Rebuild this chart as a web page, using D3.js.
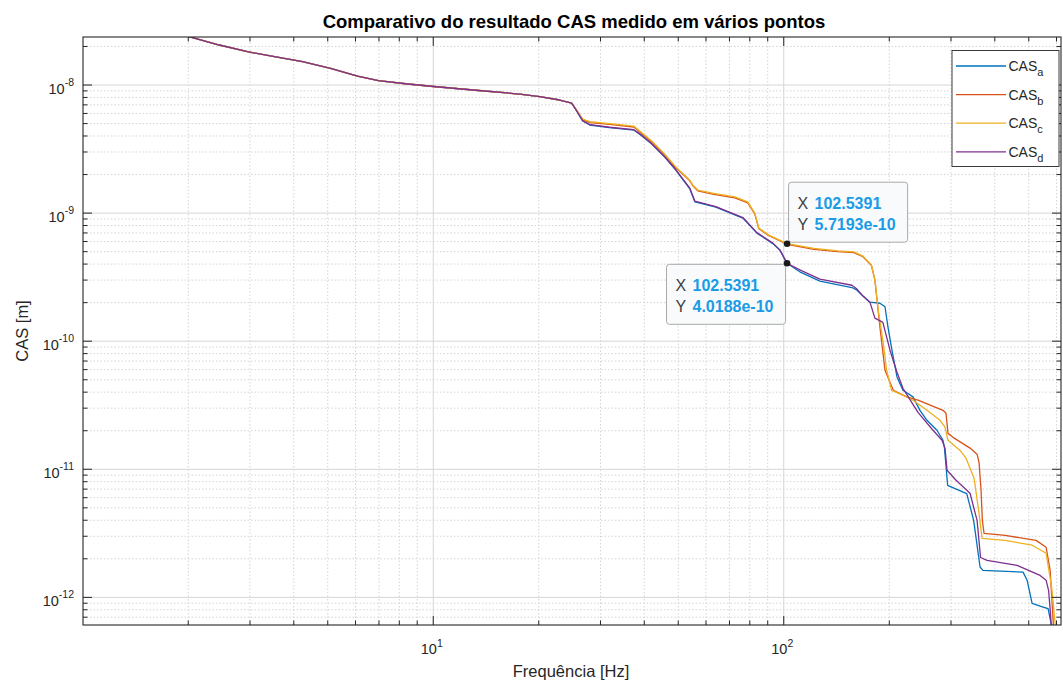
<!DOCTYPE html>
<html>
<head>
<meta charset="utf-8">
<script src="https://cdn.jsdelivr.net/npm/d3@7"></script>
<style>
  body { margin: 0; background: #ffffff; }
  svg { display: block; font-family: "Liberation Sans", Arial, Helvetica, sans-serif; }
</style>
</head>
<body>
<svg id="grafico" width="1063" height="687"></svg>
<script>
// ---- Dados: frequência [Hz] e CAS [m] ----
const faixaFreq = [1.005, 620];
const faixaCas = [6.03e-13, 2.35e-8];

const ticksFreq = [10, 100];
const rotulosFreq = ["1", "2"];
const ticksCas = [1e-12, 1e-11, 1e-10, 1e-9, 1e-8];
const rotulosCas = ["-12", "-11", "-10", "-9", "-8"];

// trecho de baixa frequência, comum aos quatro pontos
const trechoComum = [
  [2.0, 2.38e-8], [2.46, 2.035e-8], [2.96, 1.804e-8], [3.535, 1.649e-8], [4.25, 1.507e-8],
  [5.11, 1.338e-8], [6.10, 1.165e-8], [7.00, 1.071e-8], [8.36, 1.014e-8], [10.05, 9.65e-9],
  [13.78, 8.94e-9], [17.7, 8.43e-9], [20.18, 8.06e-9], [23.02, 7.57e-9], [24.91, 7.17e-9]
];

const casA = [
  [25.74, 6.21e-9], [26.78, 5.19e-9], [28.04, 4.83e-9], [31.97, 4.61e-9], [37.44, 4.41e-9],
  [38.95, 4.10e-9], [42.15, 3.43e-9], [45.91, 2.71e-9], [49.36, 2.15e-9], [54.13, 1.53e-9],
  [55.94, 1.215e-9], [64.2, 1.104e-9], [76.7, 9.06e-10], [84.1, 6.92e-10], [93.4, 5.73e-10],
  [97.8, 5.09e-10], [102.5391, 4.0188e-10], [111.5, 3.45e-10], [127.2, 2.92e-10], [157.0, 2.60e-10],
  [162.3, 2.48e-10], [168.8, 2.23e-10], [176.7, 2.00e-10], [188.7, 1.96e-10], [195.1, 1.84e-10],
  [198.9, 1.28e-10], [204.2, 8.43e-11], [211.1, 5.21e-11], [219.5, 4.10e-11], [234.5, 3.64e-11],
  [245.5, 2.86e-11], [257.0, 2.39e-11], [274.5, 2.00e-11], [285.6, 1.67e-11], [288.4, 1.45e-11],
  [294.4, 7.43e-12], [333.8, 6.40e-12], [349.3, 3.96e-12], [364.3, 1.71e-12], [371.5, 1.61e-12],
  [483.3, 1.56e-12], [496.2, 1.35e-12], [512.8, 8.90e-13], [551.1, 8.33e-13], [569.6, 8.09e-13],
  [583.6, 5.81e-13], [590.0, 4.57e-13]
];

const casB = [
  [25.74, 6.28e-9], [26.78, 5.30e-9], [28.04, 5.05e-9], [31.97, 4.88e-9], [37.44, 4.66e-9],
  [38.95, 4.26e-9], [42.15, 3.56e-9], [45.91, 2.82e-9], [49.36, 2.24e-9], [54.13, 1.77e-9],
  [55.21, 1.62e-9], [57.03, 1.48e-9], [63.36, 1.39e-9], [72.75, 1.305e-9], [79.21, 1.19e-9],
  [82.94, 9.75e-10], [85.15, 7.5e-10], [90.96, 6.6e-10], [102.5391, 5.66e-10], [122.3, 5.17e-10],
  [143.2, 4.96e-10], [159.1, 4.87e-10], [168.8, 4.52e-10], [178.5, 3.86e-10], [182.6, 2.97e-10],
  [188.7, 1.28e-10], [195.1, 5.88e-11], [206.0, 4.10e-11], [224.9, 3.64e-11], [242.3, 3.43e-11],
  [285.6, 2.86e-11], [291.3, 2.71e-11], [295.1, 1.89e-11], [305.0, 1.76e-11], [341.1, 1.45e-11],
  [357.2, 1.30e-11], [361.9, 1.12e-11], [366.7, 6.79e-12], [369.8, 3.96e-12], [374.0, 3.13e-12],
  [429.4, 3.02e-12], [526.4, 2.76e-12], [562.2, 2.44e-12], [577.3, 1.61e-12], [588.8, 6.55e-13],
  [592.7, 4.57e-13]
];

const casC = [
  [25.74, 6.32e-9], [26.78, 5.38e-9], [28.04, 5.14e-9], [31.97, 4.96e-9], [37.44, 4.74e-9],
  [38.95, 4.33e-9], [42.15, 3.62e-9], [45.91, 2.86e-9], [49.36, 2.27e-9], [54.13, 1.79e-9],
  [55.21, 1.64e-9], [57.03, 1.50e-9], [63.36, 1.413e-9], [72.75, 1.328e-9], [79.21, 1.214e-9],
  [82.94, 9.91e-10], [85.15, 7.57e-10], [90.96, 6.67e-10], [102.5391, 5.7193e-10], [122.3, 5.25e-10],
  [143.2, 5.03e-10], [159.1, 4.94e-10], [168.8, 4.57e-10], [178.5, 3.89e-10], [182.6, 2.97e-10],
  [186.6, 1.73e-10], [192.9, 9.56e-11], [197.2, 5.88e-11], [203.8, 4.10e-11], [219.5, 3.75e-11],
  [234.5, 3.43e-11], [257.0, 2.86e-11], [280.0, 2.39e-11], [289.3, 2.11e-11], [295.1, 1.67e-11],
  [319.5, 1.39e-11], [332.3, 1.21e-11], [341.1, 1.01e-11], [350.3, 8.43e-12], [361.9, 4.49e-12],
  [369.1, 2.86e-12], [429.4, 2.76e-12], [512.8, 2.53e-12], [562.2, 2.19e-12], [583.0, 1.19e-12],
  [596.6, 6.21e-13], [600.4, 4.57e-13]
];

const casD = [
  [25.74, 6.23e-9], [26.78, 5.21e-9], [28.04, 4.86e-9], [31.97, 4.64e-9], [37.44, 4.44e-9],
  [38.95, 4.12e-9], [42.15, 3.45e-9], [45.91, 2.73e-9], [49.36, 2.17e-9], [54.13, 1.55e-9],
  [55.94, 1.23e-9], [64.2, 1.115e-9], [76.7, 9.15e-10], [84.1, 6.98e-10], [93.4, 5.78e-10],
  [97.8, 5.12e-10], [102.5391, 4.0188e-10], [111.5, 3.57e-10], [127.2, 3.02e-10], [157.0, 2.71e-10],
  [162.3, 2.53e-10], [168.8, 2.23e-10], [176.7, 2.00e-10], [182.6, 1.50e-10], [192.4, 1.39e-10],
  [201.6, 8.43e-11], [211.1, 5.67e-11], [219.5, 4.25e-11], [242.3, 2.76e-11], [267.4, 2.00e-11],
  [283.8, 1.67e-11], [289.3, 1.45e-11], [293.3, 9.73e-12], [311.1, 8.13e-12], [341.1, 6.44e-12],
  [357.2, 3.96e-12], [365.5, 2.03e-12], [381.4, 1.93e-12], [464.7, 1.76e-12], [540.4, 1.47e-12],
  [562.2, 1.35e-12], [571.5, 1.12e-12], [579.2, 7.17e-13], [584.8, 4.57e-13]
];

const nomesSeries = ["a", "b", "c", "d"];
const coresSeries = ["#0072BD", "#D95319", "#EDB120", "#7E2F8E"];
const valoresSeries = [casA, casB, casC, casD].map(s => trechoComum.concat(s));

// marcadores de leitura (datatips)
const dicaFreq = [102.5391, 102.5391];
const dicaCas = [5.7193e-10, 4.0188e-10];

// ---- Escalas e área do gráfico ----
const svg = d3.select("#grafico");
const area = { left: 83, right: 1061, top: 37, bottom: 625 };
const alt = area.bottom - area.top;
const larg = area.right - area.left;

const x = d3.scaleLog().domain(faixaFreq).range([area.left, area.right]);
const y = d3.scaleLog().domain(faixaCas).range([area.bottom, area.top]);

// subdivisões logarítmicas (2..9 de cada década)
function subdivisoes(dom, e0, e1) {
  const out = [];
  for (let e = e0; e <= e1; e++)
    for (let k = 2; k <= 9; k++) {
      const v = k * Math.pow(10, e);
      if (v > dom[0] && v < dom[1]) out.push(v);
    }
  return out;
}
const menoresFreq = subdivisoes(faixaFreq, 0, 2);
const menoresCas = subdivisoes(faixaCas, -13, -8);

svg.append("rect").attr("width", 1063).attr("height", 687).attr("fill", "#ffffff");

// ---- Grade ----
function grade(eixo, valores, pos, tamanho, cor, tracejado) {
  const g = svg.append("g").attr("transform", pos)
    .call(eixo.tickValues(valores).tickSize(tamanho).tickSizeOuter(0).tickFormat(""));
  g.select(".domain").remove();
  g.selectAll("line").attr("stroke", cor).attr("stroke-width", 1)
    .attr("stroke-dasharray", tracejado);
  return g;
}
grade(d3.axisBottom(x), menoresFreq, `translate(0,${area.bottom})`, -alt, "#d4d4d4", "1.5,2");
grade(d3.axisLeft(y), menoresCas, `translate(${area.left},0)`, -larg, "#d4d4d4", "1.5,2");
grade(d3.axisBottom(x), ticksFreq, `translate(0,${area.bottom})`, -alt, "#d6d6d6", null);
grade(d3.axisLeft(y), ticksCas, `translate(${area.left},0)`, -larg, "#d6d6d6", null);

// ---- Curvas ----
svg.append("clipPath").attr("id", "recorte")
  .append("rect").attr("x", area.left).attr("y", area.top).attr("width", larg).attr("height", alt);

const linha = d3.line().x(d => x(d[0])).y(d => y(d[1]));
svg.append("g").attr("clip-path", "url(#recorte)")
  .selectAll("path").data(valoresSeries).join("path")
  .attr("d", linha)
  .attr("fill", "none")
  .attr("stroke", (d, i) => coresSeries[i])
  .attr("stroke-width", 1.3)
  .attr("stroke-linejoin", "round");

// ---- Eixos (caixa com marcas internas) ----
const corEixo = "#262626";
function marcas(eixo, valores, pos, tamanho) {
  const g = svg.append("g").attr("transform", pos)
    .call(eixo.tickValues(valores).tickSize(tamanho).tickSizeOuter(0).tickFormat(""));
  g.select(".domain").remove();
  g.selectAll("line").attr("stroke", corEixo).attr("stroke-width", 1);
}
marcas(d3.axisBottom(x), ticksFreq, `translate(0,${area.bottom})`, -9);
marcas(d3.axisBottom(x), menoresFreq, `translate(0,${area.bottom})`, -4.5);
marcas(d3.axisTop(x), ticksFreq, `translate(0,${area.top})`, -9);
marcas(d3.axisTop(x), menoresFreq, `translate(0,${area.top})`, -4.5);
marcas(d3.axisLeft(y), ticksCas, `translate(${area.left},0)`, -9);
marcas(d3.axisLeft(y), menoresCas, `translate(${area.left},0)`, -4.5);
marcas(d3.axisRight(y), ticksCas, `translate(${area.right},0)`, -9);
marcas(d3.axisRight(y), menoresCas, `translate(${area.right},0)`, -4.5);

svg.append("rect")
  .attr("x", area.left).attr("y", area.top).attr("width", larg).attr("height", alt)
  .attr("fill", "none").attr("stroke", corEixo).attr("stroke-width", 1.1);

// rótulos 10^n
function potencia(sel, exp) {
  sel.append("tspan").text("10");
  sel.append("tspan").attr("font-size", 10.5).attr("dy", -7.5).text(exp);
}
ticksFreq.forEach((v, i) => {
  const t = svg.append("text").attr("x", x(v) - 1).attr("y", 654)
    .attr("text-anchor", "middle").attr("font-size", 14.5).attr("fill", corEixo);
  potencia(t, rotulosFreq[i]);
});
ticksCas.forEach((v, i) => {
  const t = svg.append("text").attr("x", 74).attr("y", y(v) + 9)
    .attr("text-anchor", "end").attr("font-size", 14.5).attr("fill", corEixo);
  potencia(t, rotulosCas[i]);
});

// ---- Títulos ----
svg.append("text").attr("x", 574).attr("y", 28)
  .attr("text-anchor", "middle").attr("font-size", 18.5).attr("font-weight", "bold")
  .attr("fill", "#000000")
  .text("Comparativo do resultado CAS medido em vários pontos");

svg.append("text").attr("x", (area.left + area.right) / 2 - 1).attr("y", 677)
  .attr("text-anchor", "middle").attr("font-size", 16.5).attr("fill", corEixo)
  .text("Frequência [Hz]");

svg.append("text").attr("transform", `translate(28,331) rotate(-90)`)
  .attr("text-anchor", "middle").attr("font-size", 16.5).attr("fill", corEixo)
  .text("CAS [m]");

// ---- Legenda ----
const leg = svg.append("g");
leg.append("rect").attr("x", 952).attr("y", 50.5).attr("width", 107).attr("height", 116)
  .attr("fill", "#ffffff").attr("stroke", corEixo).attr("stroke-width", 0.9);
nomesSeries.forEach((n, i) => {
  const yy = 66 + i * 28.6;
  leg.append("line").attr("x1", 956).attr("x2", 1006).attr("y1", yy).attr("y2", yy)
    .attr("stroke", coresSeries[i]).attr("stroke-width", 1.3);
  const t = leg.append("text").attr("x", 1008.5).attr("y", yy + 5)
    .attr("font-size", 14).attr("fill", corEixo);
  t.append("tspan").text("CAS");
  t.append("tspan").attr("font-size", 11).attr("dy", 5).text(n);
});

// ---- Datatips ----
const formatoX = d3.format(".4f");
const formatoY = v => v.toExponential(4);
const caixas = [
  { ancora: "baixo-esq" },
  { ancora: "cima-dir" }
];
dicaFreq.forEach((f, i) => {
  const px = x(f), py = y(dicaCas[i]);
  const g = svg.append("g");
  const caixa = g.append("rect").attr("rx", 3).attr("ry", 3)
    .attr("fill", "#f9fafb").attr("fill-opacity", 0.95)
    .attr("stroke", "#a9a9a9").attr("stroke-width", 1);
  const tx = g.append("g");
  const linhas = [["X", formatoX(f)], ["Y", formatoY(dicaCas[i])]];
  linhas.forEach((l, j) => {
    tx.append("text").attr("x", 9).attr("y", 26.5 + j * 21)
      .attr("font-size", 16).attr("fill", "#404040").text(l[0]);
    tx.append("text").attr("x", 26).attr("y", 26.5 + j * 21)
      .attr("font-size", 16).attr("font-weight", "bold").attr("fill", "#1a9be6").text(l[1]);
  });
  const w = tx.node().getBBox().width + tx.node().getBBox().x + 12;
  const h = 60;
  let bx, by;
  if (caixas[i].ancora === "baixo-esq") { bx = px + 1.5; by = py - 1.5 - h; }
  else { bx = px - 1.5 - w; by = py + 1; }
  caixa.attr("x", bx).attr("y", by).attr("width", w).attr("height", h);
  tx.attr("transform", `translate(${bx},${by})`);
  svg.append("circle").attr("cx", px).attr("cy", py).attr("r", 3.3).attr("fill", "#1a1a1a");
});
</script>
</body>
</html>
